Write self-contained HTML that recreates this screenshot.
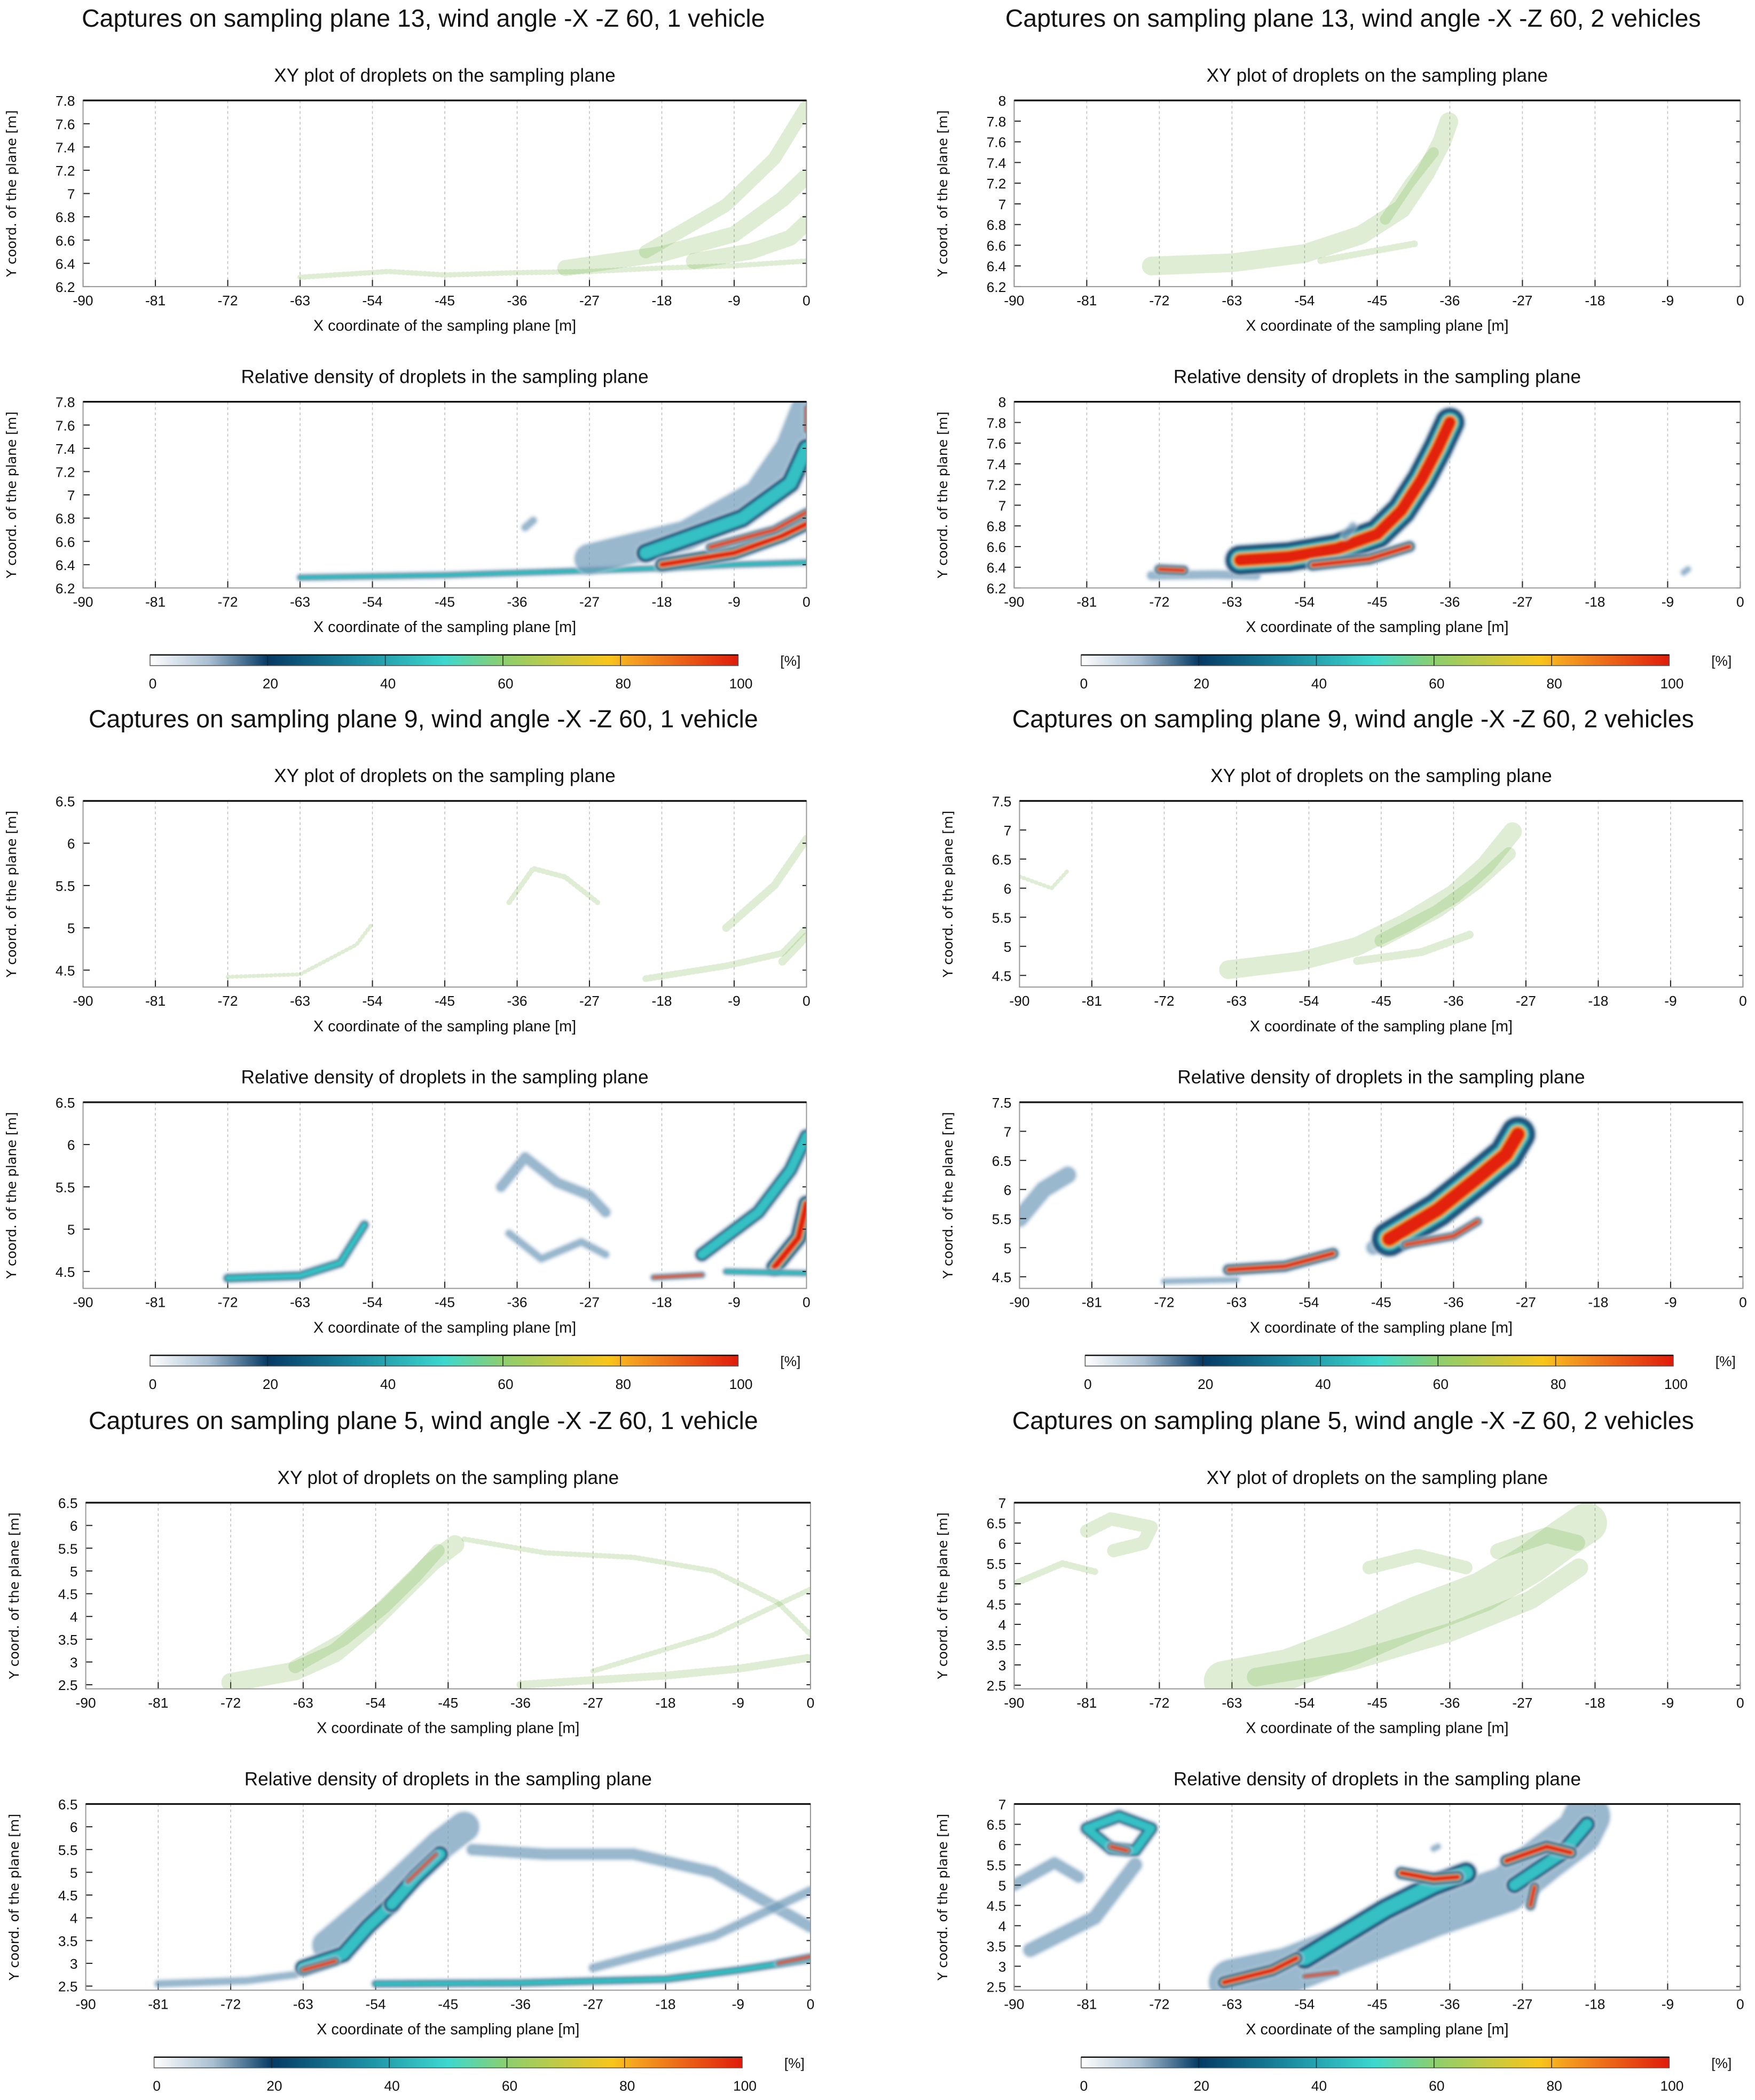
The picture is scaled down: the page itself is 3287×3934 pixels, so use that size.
<!DOCTYPE html>
<html><head><meta charset="utf-8"><style>
html,body{margin:0;padding:0;background:#fff;}
svg{display:block;}
text{font-family:"Liberation Sans",sans-serif;fill:#111;}
.yl{font-family:"DejaVu Sans","Liberation Sans",sans-serif;}
</style></head><body>
<svg id="fig" xmlns="http://www.w3.org/2000/svg" width="3287" height="3934" viewBox="0 0 1310 1568" preserveAspectRatio="none">
<defs>
<linearGradient id="cbar" x1="0" x2="1" y1="0" y2="0">
<stop offset="0" stop-color="#ffffff"/><stop offset="0.1" stop-color="#a9bfd2"/><stop offset="0.2" stop-color="#053a64"/>
<stop offset="0.35" stop-color="#1a8aa0"/><stop offset="0.5" stop-color="#3dd8cf"/><stop offset="0.6" stop-color="#8ccf6e"/>
<stop offset="0.78" stop-color="#f9c51a"/><stop offset="0.82" stop-color="#f5a020"/><stop offset="1" stop-color="#e01b0b"/>
</linearGradient>
<filter id="blur1" filterUnits="userSpaceOnUse" x="0" y="0" width="1310" height="1568"><feGaussianBlur stdDeviation="1"/></filter>
</defs>
</svg>
<script>
// ---- data ----
const xTicks = [-90,-81,-72,-63,-54,-45,-36,-27,-18,-9,0];
const cbTicks = [0,20,40,60,80,100];
const titles = [
 "Captures on sampling plane 13, wind angle -X -Z 60, 1 vehicle",
 "Captures on sampling plane 13, wind angle -X -Z 60, 2 vehicles",
 "Captures on sampling plane 9, wind angle -X -Z 60, 1 vehicle",
 "Captures on sampling plane 9, wind angle -X -Z 60, 2 vehicles",
 "Captures on sampling plane 5, wind angle -X -Z 60, 1 vehicle",
 "Captures on sampling plane 5, wind angle -X -Z 60, 2 vehicles"];
const yRangeMin = [6.2, 6.2, 4.3, 4.3, 2.41, 2.41];
const yRangeMax = [7.8, 8.0, 6.5, 7.5, 6.5, 7.0];
const yTickStep = [0.2, 0.2, 0.5, 0.5, 0.5, 0.5];
const yTickStart = [6.2, 6.2, 4.5, 4.5, 2.5, 2.5];

// scatter bands: [points [x,y]...], width
const xy0 = [
 [[[-63,6.28],[-52,6.33],[-45,6.3],[-36,6.32],[-27,6.33],[-18,6.36],[-9,6.38],[0,6.42]],4],
 [[[-30,6.36],[-18,6.48],[-9,6.65],[-3,6.95],[0,7.15]],12],
 [[[-20,6.5],[-10,6.9],[-4,7.3],[0,7.75]],10],
 [[[-14,6.42],[-7,6.5],[-2,6.62],[0,6.75]],12]];
const xy1 = [
 [[[-73,6.4],[-63,6.43],[-54,6.52],[-47,6.7],[-42,6.95],[-39,7.3],[-37,7.6],[-36,7.82]],14],
 [[[-52,6.45],[-45,6.55],[-40,6.62]],5],
 [[[-44,6.85],[-41,7.2],[-38,7.5]],8]];
const xy2 = [
 [[[-72,4.42],[-63,4.45],[-56,4.8],[-54,5.05]],3],
 [[[-37,5.3],[-34,5.7],[-30,5.6],[-26,5.3]],4],
 [[[-20,4.4],[-10,4.55],[-3,4.7],[0,5.0]],5],
 [[[-10,5.0],[-4,5.5],[0,6.05]],6],
 [[[-3,4.6],[0,4.9]],6]];
const xy3 = [
 [[[-64,4.6],[-55,4.75],[-48,5.0],[-42,5.4],[-36,5.9],[-32,6.4],[-28.5,7.0]],14],
 [[[-45,5.1],[-38,5.6],[-33,6.1],[-29,6.6]],10],
 [[[-48,4.75],[-40,4.9],[-34,5.2]],6],
 [[[-90,6.2],[-86,6.0],[-84,6.3]],3]];
const xy4 = [
 [[[-72,2.55],[-64,2.8],[-59,3.2],[-55,3.8],[-51,4.5],[-47,5.2],[-44,5.6]],14],
 [[[-64,2.9],[-58,3.5],[-53,4.2],[-49,4.9],[-46,5.5]],10],
 [[[-43,5.7],[-33,5.4],[-22,5.3],[-12,5.0],[-4,4.3],[0,3.6]],4],
 [[[-36,2.5],[-18,2.7],[-9,2.85],[0,3.1]],6],
 [[[-27,2.8],[-12,3.6],[0,4.6]],4]];
const xy5 = [
 [[[-81,6.3],[-78,6.6],[-73,6.4],[-74,6.0],[-78,5.8]],10],
 [[[-90,5.0],[-84,5.5],[-80,5.3]],5],
 [[[-64,2.6],[-56,2.9],[-48,3.5],[-40,4.2],[-32,4.8],[-26,5.5],[-22,6.1],[-19,6.5]],30],
 [[[-60,2.7],[-48,3.1],[-36,3.8],[-26,4.6],[-20,5.4]],14],
 [[[-46,5.4],[-40,5.7],[-34,5.4]],10],
 [[[-30,5.8],[-24,6.2],[-20,6.0]],12]];

// density strokes: [points, width, level(1 low,2 mid,3 high)]
const d0 = [
 [[[-63,6.29],[-45,6.31],[-36,6.33],[-27,6.35],[-18,6.37],[-9,6.4],[0,6.42]],4,2],
 [[[-27,6.45],[-15,6.65],[-6,7.0],[-2,7.4],[0,7.75]],22,1],
 [[[-20,6.5],[-8,6.8],[-2,7.1],[0,7.4]],14,2],
 [[[-18,6.4],[-9,6.5],[-3,6.65],[0,6.75]],10,3],
 [[[-12,6.55],[-4,6.7],[0,6.85]],6,3],
 [[[-35,6.72],[-34,6.78]],5,1],
 [[[0,7.55],[0,7.75]],4,3]];
const d1 = [
 [[[-73,6.32],[-65,6.33],[-60,6.32]],6,1],
 [[[-72,6.38],[-69,6.37]],7,3],
 [[[-62,6.47],[-56,6.5],[-50,6.58],[-45,6.72],[-42,6.95],[-39.5,7.25],[-37.5,7.55],[-36,7.8]],22,3],
 [[[-53,6.42],[-46,6.48],[-41,6.6]],8,3],
 [[[-49,6.7],[-48,6.8]],5,1],
 [[[-7,6.35],[-6.5,6.38]],4,1]];
const d2 = [
 [[[-72,4.42],[-63,4.45],[-58,4.6],[-55,5.05]],6,2],
 [[[-38,5.5],[-35,5.85],[-31,5.55],[-27,5.4],[-25,5.2]],7,1],
 [[[-37,4.95],[-33,4.65],[-28,4.85],[-25,4.7]],5,1],
 [[[-19,4.43],[-13,4.46]],4,3],
 [[[-13,4.7],[-6,5.2],[-2,5.7],[0,6.1]],10,2],
 [[[-4,4.55],[-1,4.9],[0,5.3]],12,3],
 [[[-10,4.5],[0,4.48]],4,2]];
const d3 = [
 [[[-90,5.5],[-87,6.0],[-84,6.25]],12,1],
 [[[-72,4.42],[-63,4.45]],4,1],
 [[[-64,4.62],[-57,4.68],[-51,4.9]],8,3],
 [[[-46,5.0],[-42,5.4]],10,1],
 [[[-44,5.15],[-38,5.65],[-33,6.2],[-29.5,6.6],[-28,6.95]],26,3],
 [[[-42,5.05],[-36,5.2],[-33,5.45]],6,3]];
const d4 = [
 [[[-81,2.55],[-70,2.62],[-64,2.75]],5,1],
 [[[-60,3.4],[-52,4.6],[-46,5.6],[-43,6.0]],22,1],
 [[[-63,2.9],[-58,3.2],[-55,3.8],[-52,4.3]],12,2],
 [[[-52,4.3],[-49,4.9],[-46,5.4]],12,2],
 [[[-63,2.85],[-59,3.05]],6,3],
 [[[-50,4.8],[-46.5,5.4]],4,3],
 [[[-42,5.5],[-33,5.4],[-22,5.4],[-12,5.0],[-5,4.3],[0,3.8]],8,1],
 [[[-54,2.55],[-36,2.57],[-18,2.65],[-9,2.85],[0,3.1]],5,2],
 [[[-27,2.9],[-12,3.6],[0,4.6]],6,1],
 [[[-4,3.0],[0,3.15]],4,3]];
const d5 = [
 [[[-81,6.4],[-77,6.7],[-73,6.4],[-75,5.85],[-78,5.9],[-81,6.4]],9,2],
 [[[-78,5.95],[-76,5.85]],6,3],
 [[[-90,5.0],[-85,5.55],[-82,5.2]],8,1],
 [[[-88,3.4],[-80,4.2],[-75,5.5]],10,1],
 [[[-63,2.6],[-56,2.9],[-47,3.6],[-38,4.3],[-29,4.9],[-24,5.7],[-20,6.3],[-19,6.7]],34,1],
 [[[-54,3.2],[-44,4.4],[-38,5.0],[-34,5.3]],16,2],
 [[[-28,5.0],[-22,5.8],[-19,6.5]],12,2],
 [[[-64,2.6],[-58,2.9],[-55,3.2]],9,3],
 [[[-54,2.75],[-50,2.85]],4,3],
 [[[-42,5.3],[-38,5.15],[-35,5.2]],9,3],
 [[[-29,5.6],[-24,5.95],[-21,5.8]],9,3],
 [[[-26,4.5],[-25.5,4.95]],7,3],
 [[[-38,5.9],[-37.5,5.95]],4,1]];

const xyData = [xy0,xy1,xy2,xy3,xy4,xy5];
const dData = [d0,d1,d2,d3,d4,d5];

// ---- layout (viewBox units) ----
const svg = document.getElementById('fig');
const NS = 'http://www.w3.org/2000/svg';
function mk(tag, attrs, parent){const e=document.createElementNS(NS,tag);for(const k in attrs)e.setAttribute(k,attrs[k]);(parent||svg).appendChild(e);return e;}
const colX = [[62,602],[757,1299],[62,602],[761,1301],[64,605],[757,1299]];
const rowOff = [0,0,523,523,1047,1047];
const cbX = [[112,551],[807,1246],[112,551],[810,1249],[115,554],[807,1246]];
const boxY = [[75,214,300,439],[598,737,823,962],[1122,1261,1347,1486]];

for(let p=0;p<6;p++){
  const off=rowOff[p]; const [x0,x1]=colX[p];
  const cx=p%2===0?316:1010;
  const t=mk('text',{x:cx,y:20+off,'font-size':18.5,'text-anchor':'middle'});t.textContent=titles[p];
  
  
  const B=boxY[Math.floor(p/2)];
  const boxes=[[B[0],B[1],'XY plot of droplets on the sampling plane',xyData[p],false],
               [B[2],B[3],'Relative density of droplets in the sampling plane',dData[p],true]];
  boxes.forEach(([y0,y1,sub,data,dens])=>{
    const g=mk('g',{});
    
    
    const xs=v=>x0+(v+90)/90*(x1-x0);
    const ys=v=>y1-(v-yRangeMin[p])/(yRangeMax[p]-yRangeMin[p])*(y1-y0);
    const st=mk('text',{x:(x0+x1)/2,y:y0-14,'font-size':14,'text-anchor':'middle'},g);st.textContent=sub;
    
    
    xTicks.forEach(v=>{
      const X=xs(v);
      if(v>-90&&v<0) mk('line',{x1:X,x2:X,y1:y0,y2:y1,stroke:'#bbb','stroke-width':0.6,'stroke-dasharray':'2 2'},g);
      mk('line',{x1:X,x2:X,y1:y1,y2:y1-5,stroke:'#222','stroke-width':0.8},g);
      const tx=mk('text',{x:X,y:y1+14,'font-size':10.5,'text-anchor':'middle'},g);tx.textContent=v;
      
      
    });
    const clip='c'+p+(dens?'d':'x');
    const cp=mk('clipPath',{id:clip},g);mk('rect',{x:x0,y:y0,width:x1-x0,height:y1-y0},cp);
    const mg=mk('g',{'clip-path':'url(#'+clip+')'},g);
    data.forEach(s=>{
      const d=s[0].map((q,i)=>(i?'L':'M')+xs(q[0]).toFixed(1)+','+ys(q[1]).toFixed(1)).join(' ');
      if(!dens){
        const e=mk('path',{d:d,fill:'none',stroke:'#6aad3c','stroke-width':s[1],'stroke-opacity':0.22,'stroke-linecap':'round','stroke-linejoin':'round','stroke-dasharray':'0.8 2.4'},mg);
        
        
      } else {
        const lvl=s[2],w=s[1];
        const layers=[];
        if(lvl===1){layers.push([w+3,'#c8d7e3',0.5]);layers.push([w,'#3f7aa3',0.45]);}
        else {layers.push([w+3,'#b8cddc',0.6]);layers.push([w,'#0b4a75',0.9]);layers.push([w*0.65,'#35c0c4',1]);}
        if(lvl>=3){layers.push([w*0.5,'#f2b01e',1]);layers.push([w*0.4,'#e3200e',1]);}
        const lg=mk('g',{filter:'url(#blur1)'},mg);
        layers.forEach(L=>{
          const e=mk('path',{d:d,fill:'none',stroke:L[1],'stroke-width':L[0],'stroke-opacity':L[2],'stroke-linecap':'round','stroke-linejoin':'round'},lg);
          
          
        });
      }
    });
    for(let v=yTickStart[p];v<=yRangeMax[p]+1e-6;v+=yTickStep[p]){
      const Y=ys(v);
      mk('line',{x1:x0,x2:x0+5,y1:Y,y2:Y,stroke:'#222','stroke-width':0.8},g);
      mk('line',{x1:x1,x2:x1-3,y1:Y,y2:Y,stroke:'#222','stroke-width':0.8},g);
      const ty=mk('text',{x:x0-6,y:Y+4,'font-size':10.5,'text-anchor':'end'},g);
      ty.textContent=(Math.round(v*10)/10).toString();
      
      
    }
    mk('rect',{x:x0,y:y0,width:x1-x0,height:y1-y0,fill:'none',stroke:'#999','stroke-width':0.8},g);
    mk('line',{x1:x0,x2:x1,y1:y0,y2:y0,stroke:'#111','stroke-width':1.3},g);
    const xl=mk('text',{x:(x0+x1)/2,y:y1+33,'font-size':11.5,'text-anchor':'middle'},g);xl.textContent='X coordinate of the sampling plane [m]';
    
    
    const yx=x0-50,yy=(y0+y1)/2;
    const yl=mk('text',{x:yx,y:yy,'font-size':10,'text-anchor':'middle','class':'yl',transform:'rotate(-90 '+yx+' '+yy+')'},g);
    yl.textContent='Y coord. of the plane [m]';
    
    
  });
  const [c0,c1]=cbX[p]; const cy=489+off;
  const cg=mk('g',{});
  
  
  mk('rect',{x:c0,y:cy,width:c1-c0,height:8,fill:'url(#cbar)',stroke:'#555','stroke-width':0.6},cg);
  mk('line',{x1:c0,x2:c1,y1:cy,y2:cy,stroke:'#111','stroke-width':1},cg);
  cbTicks.forEach(v=>{
    const X=c0+v/100*(c1-c0);
    if(v>0&&v<100) mk('line',{x1:X,x2:X,y1:cy,y2:cy+8,stroke:'#222','stroke-width':0.6},cg);
    const tt=mk('text',{x:X+2,y:cy+25,'font-size':10.5,'text-anchor':'middle'},cg);tt.textContent=v;
    
    
  });
  const pu=mk('text',{x:c1+39,y:cy+8,'font-size':10.5,'text-anchor':'middle'},cg);pu.textContent='[%]';
  
  
}
</script>
</body></html>
